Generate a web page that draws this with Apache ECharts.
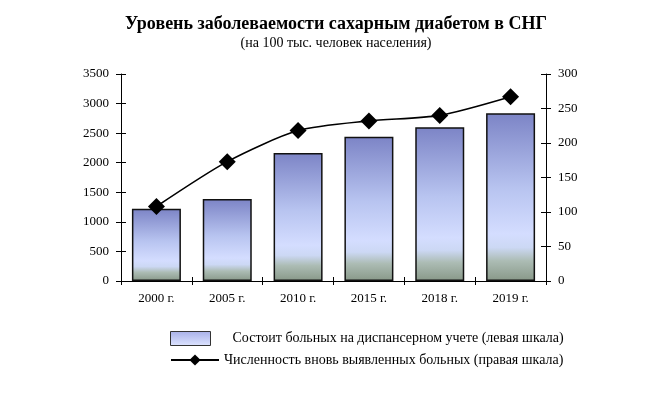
<!DOCTYPE html>
<html><head><meta charset="utf-8">
<script src="https://cdn.jsdelivr.net/npm/echarts@6/dist/echarts.min.js"></script>
<style>html,body{margin:0;padding:0;background:#fff}#c{width:672px;height:397px}</style>
</head><body><div id="c"></div>
<script>
const categories = ['2000 г.', '2005 г.', '2010 г.', '2015 г.', '2018 г.', '2019 г.'];
const registered = [1220, 1385, 2165, 2440, 2600, 2835];
const newCases = [108, 173, 218, 232, 240, 267];
const leftTicks = {min: 0, max: 3500, interval: 500};
const rightTicks = {min: 0, max: 300, interval: 50};
const titleText = 'Уровень заболеваемости сахарным диабетом в СНГ';
const subtitleText = '(на 100 тыс. человек населения)';
const seriesNames = ['Состоит больных на диспансерном учете (левая шкала)', 'Численность вновь выявленных больных (правая шкала)'];

const font = 'Liberation Serif';
const chart = echarts.init(document.getElementById('c'));
const barGrad = new echarts.graphic.LinearGradient(0, 0, 0, 1, [
  {offset: 0, color: '#7c84c6'},
  {offset: 0.45, color: '#b8c4f0'},
  {offset: 0.72, color: '#d4ddff'},
  {offset: 0.8, color: '#ccd8f4'},
  {offset: 0.88, color: '#acbcb4'},
  {offset: 1, color: '#889888'}
]);
const legendGrad = new echarts.graphic.LinearGradient(0, 0, 0, 1, [
  {offset: 0, color: '#a8b0e8'},
  {offset: 1, color: '#dde4ff'}
]);
const grid = {left: 121, right: 126, top: 74, bottom: 116};
const plain = v => String(v);
chart.setOption({
  animation: false,
  title: [
    {text: titleText, left: 'center', top: 10, textStyle: {fontFamily: font, fontSize: 18, fontWeight: 'bold', color: '#000'}},
    {text: subtitleText, left: 'center', top: 36, padding: [0, 0, 0, 8], textStyle: {fontFamily: font, fontSize: 14, fontWeight: 'normal', color: '#000'}}
  ],
  legend: [
    {data: [{name: seriesNames[0], itemStyle: {color: legendGrad, borderColor: '#333', borderWidth: 1}}],
     left: 165, top: 326, itemWidth: 40, itemHeight: 14, icon: 'rect',
     textStyle: {fontFamily: font, fontSize: 14, color: '#000', padding: [0, 0, 0, 17]}},
    {data: [seriesNames[1]], left: 165, top: 348, itemWidth: 48, itemHeight: 14,
     textStyle: {fontFamily: font, fontSize: 14, color: '#000', padding: [0, 0, 0, 0]}}
  ],
  grid: grid,
  xAxis: [
    {type: 'category', data: categories, boundaryGap: true,
     axisLine: {lineStyle: {color: '#000', width: 1}},
     axisTick: {show: true, length: 4, alignWithLabel: false, lineStyle: {color: '#000'}},
     axisLabel: {fontFamily: font, fontSize: 13, color: '#000', margin: 11}},
    {type: 'category', data: categories, position: 'bottom', boundaryGap: true,
     axisLine: {show: false}, axisLabel: {show: false},
     axisTick: {show: true, inside: true, length: 4, lineStyle: {color: '#000'}}}
  ],
  yAxis: [
    {type: 'value', min: leftTicks.min, max: leftTicks.max, interval: leftTicks.interval, position: 'left',
     splitLine: {show: false},
     axisLine: {show: true, lineStyle: {color: '#000'}},
     axisTick: {show: true, length: 5, lineStyle: {color: '#000'}},
     axisLabel: {fontFamily: font, fontSize: 13, color: '#000', margin: 12, formatter: plain}},
    {type: 'value', min: rightTicks.min, max: rightTicks.max, interval: rightTicks.interval, position: 'right',
     splitLine: {show: false},
     axisLine: {show: true, lineStyle: {color: '#000'}},
     axisTick: {show: true, length: 5, lineStyle: {color: '#000'}},
     axisLabel: {fontFamily: font, fontSize: 13, color: '#000', margin: 12, formatter: plain}},
    {type: 'value', min: leftTicks.min, max: leftTicks.max, interval: leftTicks.interval, position: 'left',
     splitLine: {show: false}, axisLine: {show: false}, axisLabel: {show: false},
     axisTick: {show: true, inside: true, length: 5, lineStyle: {color: '#000'}}},
    {type: 'value', min: rightTicks.min, max: rightTicks.max, interval: rightTicks.interval, position: 'right',
     splitLine: {show: false}, axisLine: {show: false}, axisLabel: {show: false},
     axisTick: {show: true, inside: true, length: 5, lineStyle: {color: '#000'}}}
  ],
  series: [
    {name: seriesNames[0], type: 'bar', data: registered, xAxisIndex: 0, yAxisIndex: 0, barWidth: 49,
     itemStyle: {color: barGrad, borderColor: '#111', borderWidth: 1.5}},
    {name: seriesNames[1], type: 'line', data: newCases, xAxisIndex: 0, yAxisIndex: 1, smooth: 0.25,
     symbol: 'diamond', symbolSize: 17,
     lineStyle: {color: '#000', width: 1.6}, itemStyle: {color: '#000'}}
  ]
});
</script></body></html>
